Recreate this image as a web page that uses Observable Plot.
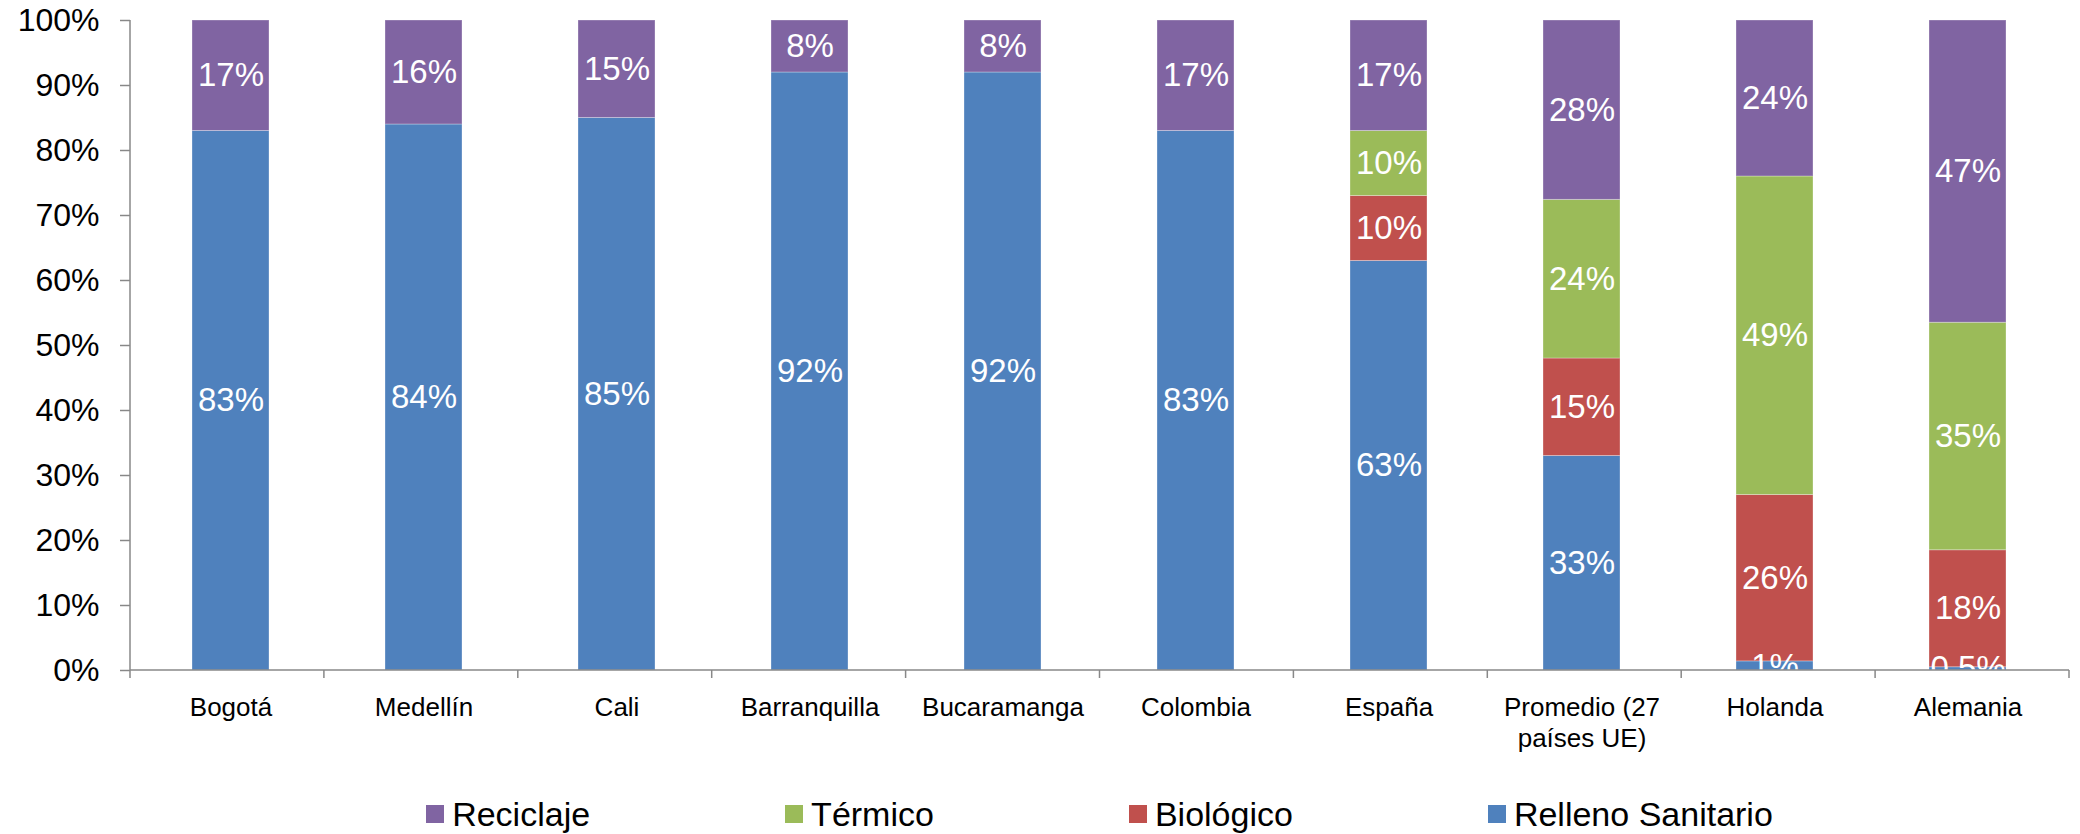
<!DOCTYPE html>
<html>
<head>
<meta charset="utf-8">
<script src="https://cdn.jsdelivr.net/npm/d3@7"></script>
<script src="https://cdn.jsdelivr.net/npm/@observablehq/plot@0.6"></script>
<style>
  html, body { margin: 0; padding: 0; background: #fff; }
  body { width: 2080px; height: 834px; position: relative; overflow: hidden; font-family: "Liberation Sans", Arial, sans-serif; }
  #legend { position: absolute; left: 130px; right: 11px; top: 794px; height: 40px;
    display: flex; justify-content: center; align-items: center; gap: 195px; font-size: 34px; color: #000; }
  .item { display: flex; align-items: center; white-space: nowrap; }
  .sw { width: 18px; height: 18px; margin-right: 8px; display: inline-block; }
</style>
</head>
<body>
<div id="chart"></div>
<div id="legend"></div>
<script>
const cities = ["Bogotá", "Medellín", "Cali", "Barranquilla", "Bucaramanga", "Colombia", "España", "Promedio (27\npaíses UE)", "Holanda", "Alemania"];
const relleno   = [83, 84, 85, 92, 92, 83, 63, 33, 1.4, 0.5];
const biologico = [0, 0, 0, 0, 0, 0, 10, 15, 25.6, 18];
const termico   = [0, 0, 0, 0, 0, 0, 10, 24.4, 49, 35];
const reciclaje = [17, 16, 15, 8, 8, 17, 17, 27.6, 24, 46.5];
const yTicks = [0, 10, 20, 30, 40, 50, 60, 70, 80, 90, 100];

const stackOrder = ["Relleno Sanitario", "Biológico", "Térmico", "Reciclaje"];
const legendOrder = ["Reciclaje", "Térmico", "Biológico", "Relleno Sanitario"];
const colors = {"Reciclaje": "#8064A2", "Térmico": "#9BBB59", "Biológico": "#C0504D", "Relleno Sanitario": "#4F81BD"};
const series = {"Relleno Sanitario": relleno, "Biológico": biologico, "Térmico": termico, "Reciclaje": reciclaje};

const rows = [];
stackOrder.forEach(t => cities.forEach((c, i) => rows.push({city: c, type: t, value: series[t][i]})));
const fmt = v => (v < 1 ? v : Math.round(v)) + "%";

function axisDecor(index, scales, values, dims) {
  const g = d3.create("svg:g").attr("stroke", "#888").attr("stroke-width", 1.5).attr("fill", "none");
  const x0 = dims.marginLeft, x1 = dims.width - dims.marginRight;
  const yb = dims.height - dims.marginBottom, yt = dims.marginTop;
  g.append("line").attr("x1", x0).attr("x2", x0).attr("y1", yt).attr("y2", yb);
  g.append("line").attr("x1", x0).attr("x2", x1).attr("y1", yb).attr("y2", yb);
  const n = cities.length;
  for (let i = 0; i <= n; i++) {
    const x = x0 + i * (x1 - x0) / n;
    g.append("line").attr("x1", x).attr("x2", x).attr("y1", yb).attr("y2", yb + 8);
  }
  return g.node();
}

const chart = Plot.plot({
  width: 2080,
  height: 760,
  marginLeft: 130,
  marginRight: 11,
  marginTop: 20,
  marginBottom: 90,
  style: {fontFamily: "'Liberation Sans', Arial, sans-serif", color: "#000", background: "#fff"},
  x: {domain: cities, paddingInner: 0.6, paddingOuter: 0.3, align: 0.5, label: null},
  y: {domain: [0, 100], label: null},
  color: {domain: legendOrder, range: legendOrder.map(t => colors[t])},
  marks: [
    Plot.barY(rows, Plot.stackY({x: "city", y: "value", fill: "type", order: stackOrder, stroke: "#fff", strokeOpacity: 0.3, strokeWidth: 1})),
    Plot.text(rows.filter(d => d.value > 0), Plot.stackY({x: "city", y: "value", z: "type", order: stackOrder, text: d => fmt(d.value), fill: "white", fontSize: 33, clip: true})),
    Plot.axisY({ticks: yTicks, tickFormat: d => d + "%", tickSize: 10, tickPadding: 21, fontSize: 32, stroke: "#888", strokeWidth: 1.5, strokeOpacity: 1, label: null}),
    Plot.axisX({tickSize: 0, tickPadding: 23, fontSize: 26, lineHeight: 1.2, label: null}),
    axisDecor
  ]
});
document.getElementById("chart").appendChild(chart);

const legend = document.getElementById("legend");
legendOrder.forEach(t => {
  const it = document.createElement("div");
  it.className = "item";
  const sw = document.createElement("span");
  sw.className = "sw";
  sw.style.background = colors[t];
  it.appendChild(sw);
  it.appendChild(document.createTextNode(t));
  legend.appendChild(it);
});
</script>
</body>
</html>
